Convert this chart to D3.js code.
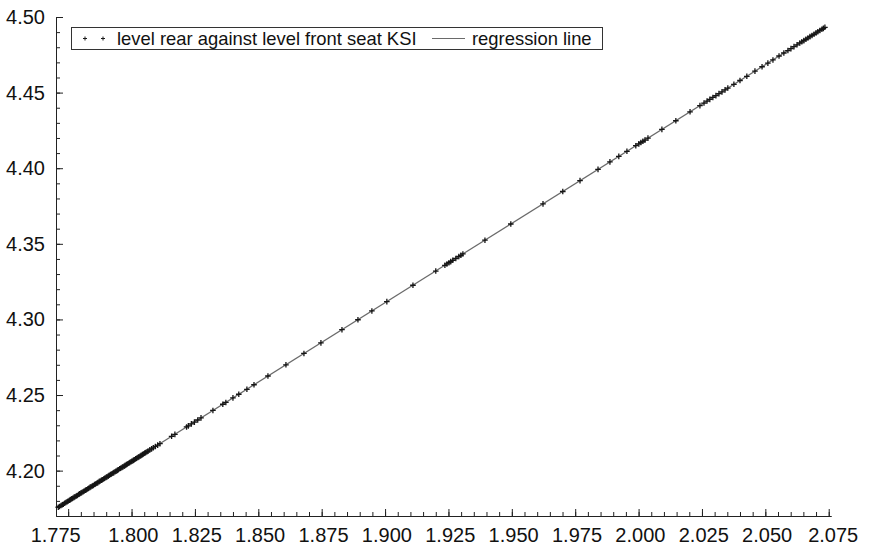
<!DOCTYPE html>
<html>
<head>
<meta charset="utf-8">
<script src="https://cdn.jsdelivr.net/npm/d3@7/dist/d3.min.js"></script>
<style>
  html, body { margin: 0; padding: 0; background: #fff; }
  svg { display: block; }
  text { font-family: "Liberation Sans", Arial, Helvetica, sans-serif; fill: #111; }
</style>
</head>
<body>
<svg id="chart" width="869" height="546"></svg>
<script>
// ---- data: level front seat KSI (x) and level rear seat KSI (y) ----
const frontLevel = [
  1.7711,1.7716,1.7722,1.7727,1.7731,1.7736,1.7741,1.7746,1.7750,1.7755,1.7759,1.7764,1.7768,1.7773,1.7777,1.7782,
  1.7786,1.7791,1.7795,1.7800,1.7804,1.7809,1.7813,1.7818,1.7822,1.7827,1.7831,1.7836,1.7840,1.7845,1.7849,1.7854,
  1.7858,1.7863,1.7867,1.7872,1.7876,1.7881,1.7885,1.7890,1.7894,1.7899,1.7903,1.7908,1.7912,1.7917,1.7921,1.7926,
  1.7930,1.7935,1.7939,1.7944,1.7948,1.7953,1.7957,1.7962,1.7966,1.7971,1.7975,1.7980,1.7984,1.7989,1.7993,1.7998,
  1.8002,1.8007,1.8011,1.8016,1.8020,1.8025,1.8029,1.8034,1.8038,1.8043,1.8047,1.8052,1.8056,1.8061,1.8065,1.8072,
  1.8079,1.8086,1.8094,1.8103,1.8112,
  1.8158,1.8171,1.8217,1.8224,1.8236,1.8248,1.8261,1.8274,1.8321,1.8360,1.8372,1.8400,1.8423,1.8455,1.8483,1.8538,
  1.8609,1.8680,1.8747,1.8830,1.8893,1.8948,1.9007,1.9110,1.9200,1.9236,1.9244,1.9252,1.9259,1.9267,1.9279,1.9291,
  1.9299,1.9307,1.9394,1.9496,1.9623,1.9701,1.9769,1.9840,1.9887,1.9922,1.9954,1.9989,2.0001,2.0009,2.0017,2.0025,
  2.0037,2.0092,2.0147,2.0203,2.0242,2.0258,2.0270,2.0281,2.0293,2.0305,2.0317,2.0329,2.0341,2.0352,2.0376,2.0400,
  2.0427,2.0459,2.0487,2.0510,2.0530,2.0554,2.0573,2.0589,2.0601,2.0613,2.0625,2.0636,2.0644,2.0652,2.0660,2.0668,
  2.0676,2.0684,2.0692,2.0700,2.0707,2.0715,2.0723,2.0729,2.0735
];
const rearLevel = [
  4.1758,4.1763,4.1769,4.1774,4.1778,4.1784,4.1789,4.1794,4.1799,4.1804,4.1808,4.1813,4.1817,4.1823,4.1827,4.1832,
  4.1836,4.1842,4.1846,4.1851,4.1855,4.1860,4.1865,4.1870,4.1874,4.1879,4.1884,4.1889,4.1893,4.1898,4.1902,4.1908,
  4.1912,4.1917,4.1921,4.1927,4.1931,4.1936,4.1940,4.1945,4.1950,4.1955,4.1959,4.1964,4.1969,4.1974,4.1978,4.1983,
  4.1987,4.1993,4.1997,4.2002,4.2006,4.2012,4.2016,4.2021,4.2025,4.2030,4.2035,4.2040,4.2044,4.2049,4.2054,4.2059,
  4.2063,4.2068,4.2072,4.2078,4.2082,4.2087,4.2091,4.2097,4.2101,4.2106,4.2110,4.2116,4.2120,4.2125,4.2129,4.2137,
  4.2144,4.2151,4.2160,4.2169,4.2178,
  4.2227,4.2240,4.2289,4.2296,4.2309,4.2321,4.2335,4.2349,4.2398,4.2439,4.2451,4.2481,4.2505,4.2538,4.2568,4.2626,
  4.2700,4.2775,4.2845,4.2932,4.2998,4.3056,4.3118,4.3226,4.3320,4.3358,4.3367,4.3375,4.3382,4.3391,4.3403,4.3416,
  4.3424,4.3433,4.3524,4.3631,4.3764,4.3846,4.3918,4.3992,4.4042,4.4078,4.4112,4.4149,4.4161,4.4170,4.4178,4.4186,
  4.4199,4.4257,4.4314,4.4373,4.4414,4.4431,4.4444,4.4455,4.4468,4.4480,4.4493,4.4505,4.4518,4.4530,4.4555,4.4580,
  4.4608,4.4642,4.4671,4.4695,4.4716,4.4742,4.4762,4.4778,4.4791,4.4804,4.4816,4.4828,4.4836,4.4844,4.4853,4.4861,
  4.4870,4.4878,4.4886,4.4895,4.4902,4.4911,4.4919,4.4925,4.4932
];
// regression line end points
const regX = [1.7711, 2.0735];
const regY = [4.1758, 4.4932];

// tick values
const xTickLabels = ["1.775","1.800","1.825","1.850","1.875","1.900","1.925","1.950","1.975","2.000","2.025","2.050","2.075"];
const yTickLabels = ["4.20","4.25","4.30","4.35","4.40","4.45","4.50"];
const xMinorTicks = d3.range(0, 61).map(i => +(1.775 + i * 0.005).toFixed(3));
const yMinorTicks = d3.range(0, 33).map(i => +(4.18 + i * 0.01).toFixed(2));
const legendLabels = ["level rear against level front seat KSI", "regression line"];

(function draw() {
  const svg = d3.select("#chart");
  const mLeft = 56, mRight = 831, mTop = 17, mBottom = 516;
  const x = d3.scaleLinear().domain([1.7702, 2.0759]).range([mLeft, mRight]);
  const y = d3.scaleLinear().domain([4.170, 4.500]).range([mBottom, mTop]);
  const axisColor = "#222";

  // x axis (ticks pointing inward/up)
  const gx = svg.append("g").attr("transform", `translate(0,${mBottom})`);
  gx.call(d3.axisBottom(x).tickValues(xMinorTicks).tickSize(-4).tickSizeOuter(0).tickFormat(""));
  const gxMaj = svg.append("g").attr("transform", `translate(0,${mBottom})`);
  gxMaj.call(d3.axisBottom(x).tickValues(xTickLabels.map(Number)).tickSize(-7).tickSizeOuter(0)
    .tickFormat((d, i) => xTickLabels[i]));
  [gx, gxMaj].forEach(g => {
    g.selectAll("path.domain").attr("stroke", axisColor).attr("stroke-width", 1);
    g.selectAll(".tick line").attr("stroke", axisColor).attr("stroke-width", 1);
  });
  gxMaj.selectAll(".tick text")
    .attr("y", 0).attr("dy", "26px")
    .style("font-size", "20px")
    .attr("font-family", "Liberation Sans, Arial, sans-serif")
    .attr("fill", "#111")
    .attr("dx", (d, i) => i === 0 ? -13 : (i === xTickLabels.length - 1 ? 4 : 1.3));

  // y axis (ticks pointing inward/right)
  const gy = svg.append("g").attr("transform", `translate(${mLeft},0)`);
  gy.call(d3.axisLeft(y).tickValues(yMinorTicks).tickSize(-4).tickSizeOuter(0).tickFormat(""));
  const gyMaj = svg.append("g").attr("transform", `translate(${mLeft},0)`);
  gyMaj.call(d3.axisLeft(y).tickValues(yTickLabels.map(Number)).tickSize(-7).tickSizeOuter(0)
    .tickFormat((d, i) => yTickLabels[i]));
  [gy, gyMaj].forEach(g => {
    g.selectAll("path.domain").attr("stroke", axisColor).attr("stroke-width", 1);
    g.selectAll(".tick line").attr("stroke", axisColor).attr("stroke-width", 1);
  });
  gyMaj.selectAll(".tick text")
    .attr("x", -11)
    .style("font-size", "20px")
    .attr("font-family", "Liberation Sans, Arial, sans-serif")
    .attr("fill", "#111");

  // regression line
  const line = d3.line().x(d => x(d[0])).y(d => y(d[1]));
  svg.append("path")
    .datum(regX.map((v, i) => [v, regY[i]]))
    .attr("d", line)
    .attr("fill", "none")
    .attr("stroke", "#6a6a6a")
    .attr("stroke-width", 1.2);

  // points as "+" markers
  const pts = frontLevel.map((v, i) => [v, rearLevel[i]]);
  const s = 2.8;
  svg.append("g").selectAll("path.pt")
    .data(pts).join("path")
    .attr("class", "pt")
    .attr("d", d => `M${x(d[0]) - s},${y(d[1])}H${x(d[0]) + s}M${x(d[0])},${y(d[1]) - s}V${y(d[1]) + s}`)
    .attr("stroke", "#151515")
    .attr("stroke-width", 1.3)
    .attr("fill", "none");

  // legend
  const lg = svg.append("g");
  lg.append("rect").attr("x", 71.5).attr("y", 27.5).attr("width", 531).attr("height", 22)
    .attr("fill", "#fff").attr("stroke", "#333").attr("stroke-width", 1);
  const ly = 38.5, ls = 2;
  [85, 103].forEach(cx => {
    lg.append("path")
      .attr("d", `M${cx - ls},${ly}H${cx + ls}M${cx},${ly - ls}V${ly + ls}`)
      .attr("stroke", "#1a1a1a").attr("stroke-width", 1).attr("fill", "none");
  });
  lg.append("text").attr("x", 117).attr("y", 45).style("font-size", "18.4px").text(legendLabels[0]);
  lg.append("line").attr("x1", 432).attr("x2", 465).attr("y1", ly).attr("y2", ly)
    .attr("stroke", "#6a6a6a").attr("stroke-width", 1.2);
  lg.append("text").attr("x", 472).attr("y", 45).style("font-size", "18.4px").text(legendLabels[1]);
})();
</script>
</body>
</html>
